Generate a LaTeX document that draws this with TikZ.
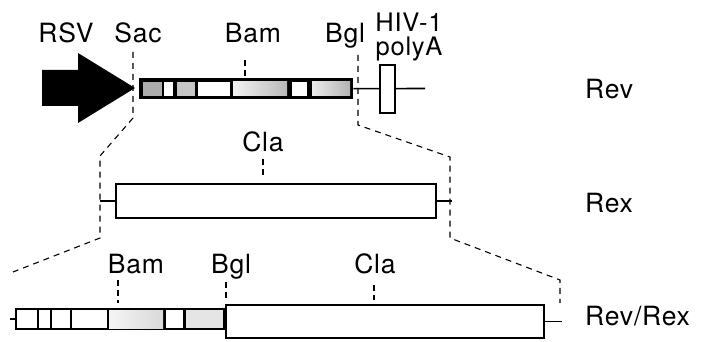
\documentclass[tikz,border=0pt]{standalone}
\usepackage{fontspec}
\setmainfont[LetterSpace=3]{TeX Gyre Heros}
\usetikzlibrary{positioning}
\begin{document}
\begin{tikzpicture}[x=1pt, y=-1pt, font=\fontsize{26.5}{30}\selectfont,
    lbl/.style={anchor=base, inner sep=0pt},
    frame/.style={draw, line width=1.8pt, fill=white, inner sep=0pt, anchor=north west},
    solidbar/.style={fill=black, inner sep=0pt, anchor=north west},
    cut/.style={dash pattern=on 6pt off 5pt, line width=1.1pt},
    site/.style={dash pattern=on 6pt off 4pt, line width=1.1pt},
    stub/.style={line width=1.6pt}]
    \useasboundingbox (0,0) rectangle (705,342);

    % Rev construct
    \fill (42,70) -- (78,70) -- (78,53) -- (135,88) -- (78,123) -- (78,106) -- (42,106) -- cycle;
    \node[solidbar, minimum width=214, minimum height=21] (rev) at (139,78) {};
    \foreach \a/\b/\c in {143/162/gray!65, 164/173/white, 177/195/gray!45, 198/230/white, 292/307/white}
        \fill[\c] (\a,82) rectangle (\b,96);
    \shade[left color=gray!10, right color=gray!55] (233,82) rectangle (287,96);
    \shade[left color=gray!15, right color=gray!60] (312,82) rectangle (350,96);
    \coordinate (tail) at (425,88.5);
    \draw[stub] (rev.east) -- (tail);
    \node[frame, anchor=center, minimum width=15, minimum height=48] (polyA) at (387.5,89) {};

    \node[lbl] (rsv) at (66,43) {RSV};
    \node[lbl] (sac) at (138,43) {Sac};
    \node[lbl] (bamA) at (253,43) {Bam};
    \node[lbl] (bglA) at (345,43) {Bgl};
    \node[lbl, align=center, font=\fontsize{25.5}{24}\selectfont] (hiv) at (409,56) {HIV-1\\polyA};
    \draw[site] (245,60) -- (245,76);

    % Rex construct
    \node[frame, minimum width=320, minimum height=34] (rex) at (115,183) {};
    \draw[stub] (rex.west) -- ++(-15,0);
    \draw[stub] (rex.east) -- ++(15,0);
    \node[lbl] (claA) at (263,152) {Cla};
    \draw[site] (263,159) -- (263,178);

    % Rev/Rex fusion
    \node[solidbar, minimum width=210, minimum height=22] (revpart) at (15,308) {};
    \foreach \a/\b in {17/37, 39/50, 52/70, 72/107, 166/183}
        \fill[white] (\a,310) rectangle (\b,328);
    \shade[left color=gray!8, right color=gray!30] (109,310) rectangle (163,328);
    \fill[gray!20] (186,310) rectangle (223,328);
    \node[frame, minimum width=318, minimum height=33] (rexpart) at (225,304) {};
    \draw[stub] (revpart.west) -- ++(-5,0);
    \draw[stub] (rexpart.east) -- ++(17,0);
    \node[lbl] (bamB) at (136,273) {Bam};
    \node[lbl] (bglB) at (231,273) {Bgl};
    \node[lbl] (claB) at (375,273) {Cla};
    \draw[site] (118,280) -- (118,303);
    \draw[site] (226,282) -- (226,298);
    \draw[site] (374,285) -- (374,300);

    % cut lines
    \draw[cut] (133,52) -- (133,118) -- (100,156) -- (100,238) -- (13,272);
    \draw[cut] (358,55) -- (358,125) -- (450,157) -- (450,238) -- (560,280) -- (560,303);

    % row labels
    \node[lbl, anchor=base west] (nRev) at (585,99) {Rev};
    \node[lbl, anchor=base west] (nRex) at (585,213) {Rex};
    \node[lbl, anchor=base west] (nRevRex) at (585,325) {Rev/Rex};
\end{tikzpicture}
\end{document}
